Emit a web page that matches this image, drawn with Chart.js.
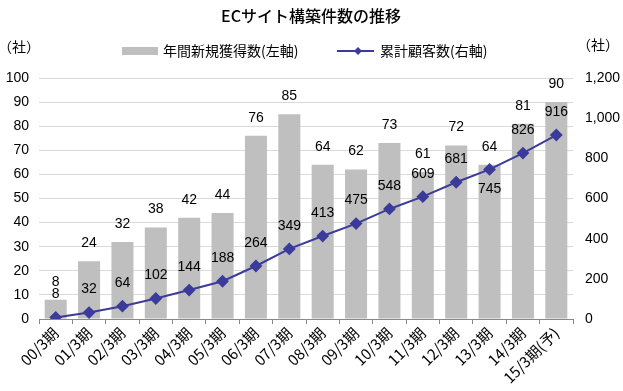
<!DOCTYPE html>
<html>
<head>
<meta charset="utf-8">
<script src="https://cdn.jsdelivr.net/npm/chart.js@4/dist/chart.umd.min.js"></script>
<style>
  body { margin: 0; background: #fff; }
  #wrap { width: 623px; height: 391px; }
</style>
</head>
<body>
<div id="wrap"><canvas id="myChart" width="623" height="391"></canvas></div>
<script>
var periods = ['00/3期', '01/3期', '02/3期', '03/3期', '04/3期', '05/3期', '06/3期', '07/3期',
               '08/3期', '09/3期', '10/3期', '11/3期', '12/3期', '13/3期', '14/3期', '15/3期(予)'];
var newClients = [8, 24, 32, 38, 42, 44, 76, 85, 64, 62, 73, 61, 72, 64, 81, 90];
var totalClients = [8, 32, 64, 102, 144, 188, 264, 349, 413, 475, 548, 609, 681, 745, 826, 916];
var leftTicks = [0, 10, 20, 30, 40, 50, 60, 70, 80, 90, 100];
var rightTicks = [0, 200, 400, 600, 800, 1000, 1200];

var FONT = "'Liberation Sans', 'Noto Sans CJK JP', sans-serif";
var JP = "'Noto Sans CJK JP', 'Liberation Sans', sans-serif";
var BAR_COLOR = '#bfbfbf';
var LINE_COLOR = '#3b3b9a';
var belowLabels = [13]; // 745 sits under its point

// title, labels, legend and unit marks drawn on top
var extras = {
    id: 'extras',
    afterDatasetsDraw: function(chart) {
        var ctx = chart.ctx;
        ctx.save();
        ctx.fillStyle = '#000';
        ctx.textAlign = 'center';
        ctx.textBaseline = 'middle';

        ctx.font = '500 16px ' + JP;
        ctx.fillText('ECサイト構築件数の推移', 311, 16);

        ctx.font = '14px ' + FONT;
        var bars = chart.getDatasetMeta(0).data;
        bars.forEach(function(el, i) {
            ctx.fillText(String(newClients[i]), el.x, el.y - 18);
        });
        var pts = chart.getDatasetMeta(1).data;
        pts.forEach(function(el, i) {
            var dy = belowLabels.indexOf(i) >= 0 ? 20 : -23;
            ctx.fillText(String(totalClients[i]), el.x, el.y + dy);
        });

        // unit labels
        ctx.font = '14px ' + JP;
        ctx.fillText('（社）', 19, 47);
        ctx.fillText('（社）', 598, 45);

        // legend
        ctx.fillStyle = BAR_COLOR;
        ctx.fillRect(122, 47, 36, 8);
        ctx.fillStyle = '#000';
        ctx.textAlign = 'left';
        ctx.fillText('年間新規獲得数(左軸)', 163, 51);

        ctx.strokeStyle = LINE_COLOR;
        ctx.lineWidth = 2;
        ctx.beginPath();
        ctx.moveTo(337, 51);
        ctx.lineTo(374, 51);
        ctx.stroke();
        ctx.fillStyle = LINE_COLOR;
        ctx.beginPath();
        ctx.moveTo(358, 47);
        ctx.lineTo(362, 51);
        ctx.lineTo(358, 55);
        ctx.lineTo(354, 51);
        ctx.closePath();
        ctx.fill();
        ctx.fillStyle = '#000';
        ctx.fillText('累計顧客数(右軸)', 380, 51);
        ctx.restore();
    }
};

var ctx = document.getElementById('myChart').getContext('2d');
var myChart = new Chart(ctx, {
    data: {
        labels: periods,
        datasets: [{
            type: 'bar',
            label: '年間新規獲得数(左軸)',
            data: newClients,
            yAxisID: 'y',
            backgroundColor: BAR_COLOR,
            barPercentage: 0.66,
            categoryPercentage: 1.0,
            order: 2
        }, {
            type: 'line',
            label: '累計顧客数(右軸)',
            data: totalClients,
            yAxisID: 'y1',
            borderColor: LINE_COLOR,
            backgroundColor: LINE_COLOR,
            borderWidth: 2,
            pointStyle: 'rectRot',
            pointRadius: 5,
            pointBackgroundColor: LINE_COLOR,
            pointBorderColor: LINE_COLOR,
            tension: 0,
            order: 1
        }]
    },
    options: {
        responsive: false,
        animation: false,
        layout: { padding: { top: 78, left: 0, right: 0, bottom: 0 } },
        plugins: {
            legend: { display: false },
            tooltip: { enabled: false },
            title: { display: false }
        },
        scales: {
            x: {
                grid: { display: true, drawOnChartArea: false, drawTicks: true, tickLength: 5, color: '#888', offset: true },
                border: { display: true, color: '#888', width: 1 },
                ticks: {
                    color: '#000',
                    font: { family: JP, size: 15 },
                    maxRotation: 45,
                    minRotation: 45,
                    autoSkip: false,
                    padding: 0
                },
                afterFit: function(scale) { scale.height = 72; }
            },
            y: {
                position: 'left',
                min: 0,
                max: 100,
                afterBuildTicks: function(scale) {
                    scale.ticks = leftTicks.map(function(v) { return { value: v }; });
                },
                grid: { color: '#d9d9d9', drawTicks: false },
                border: { display: false },
                ticks: { color: '#000', font: { family: FONT, size: 14 }, padding: 10 },
                afterFit: function(scale) { scale.width = 39; }
            },
            y1: {
                position: 'right',
                min: 0,
                max: 1200,
                afterBuildTicks: function(scale) {
                    scale.ticks = rightTicks.map(function(v) { return { value: v }; });
                },
                grid: { display: false, drawTicks: false },
                border: { display: false },
                ticks: {
                    color: '#000',
                    font: { family: FONT, size: 14 },
                    padding: 12,
                    callback: function(v) { return v.toLocaleString('en-US'); }
                },
                afterFit: function(scale) { scale.width = 50; }
            }
        }
    },
    plugins: [extras]
});
</script>
</body>
</html>
